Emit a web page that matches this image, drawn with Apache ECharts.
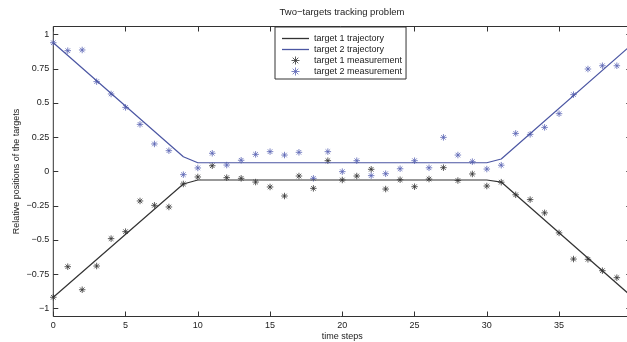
<!DOCTYPE html>
<html>
<head>
<meta charset="utf-8">
<script src="https://cdn.jsdelivr.net/npm/echarts@6/dist/echarts.min.js"></script>
<style>
html, body { margin: 0; padding: 0; background: #fff; }
#chart { width: 627px; height: 342px; }
</style>
</head>
<body>
<div id="chart"></div>
<script>
// trajectory break points (time step, position)
const traj1 = [[0, -0.918], [9, -0.091], [10, -0.062], [30, -0.062], [31, -0.077], [40, -0.91]];
const traj2 = [[0, 0.94], [9, 0.108], [10, 0.064], [30, 0.064], [31, 0.091], [40, 0.923]];

// noisy measurements, one per time step 0..39
const steps = [0, 1, 2, 3, 4, 5, 6, 7, 8, 9, 10, 11, 12, 13, 14, 15, 16, 17, 18, 19,
    20, 21, 22, 23, 24, 25, 26, 27, 28, 29, 30, 31, 32, 33, 34, 35, 36, 37, 38, 39];
const meas1 = [-0.918, -0.695, -0.863, -0.690, -0.490, -0.439, -0.215, -0.247, -0.259, -0.091,
    -0.040, 0.042, -0.045, -0.050, -0.077, -0.113, -0.179, -0.033, -0.123, 0.079,
    -0.062, -0.033, 0.016, -0.128, -0.060, -0.111, -0.055, 0.028, -0.066, -0.018,
    -0.106, -0.078, -0.170, -0.205, -0.302, -0.448, -0.639, -0.641, -0.724, -0.775];
const meas2 = [0.940, 0.882, 0.887, 0.656, 0.566, 0.468, 0.344, 0.201, 0.152, -0.023,
    0.026, 0.133, 0.047, 0.082, 0.125, 0.145, 0.120, 0.140, -0.050, 0.145,
    -0.001, 0.079, -0.030, -0.016, 0.020, 0.079, 0.027, 0.249, 0.120, 0.072,
    0.018, 0.046, 0.278, 0.271, 0.322, 0.422, 0.561, 0.748, 0.772, 0.772];

const xTickStep = 5;
const yTickStep = 0.25;

const font = '"Liberation Sans", Arial, sans-serif';
const axisColor = '#333';
const textColor = '#222';
const black = '#333';
const blue = '#4b56a3';
const blueMark = '#5a64b4';
const asterisk = 'path://M0,-10L0,10M-10,0L10,0M-7,-7L7,7M-7,7L7,-7';
const lineIcon = 'path://M0,0H27V1.3H0Z';

const minus = v => String(v).replace('-', '\u2212');

const chart = echarts.init(document.getElementById('chart'), null, { renderer: 'canvas' });

//inner grid carries the ticks (-1..1), outer grid draws the box
const tickAxis = {
    type: 'value',
    axisLine: { show: false, onZero: false },
    axisTick: { inside: true, length: 5, lineStyle: { color: axisColor } },
    splitLine: { show: false }
};

chart.setOption({
    animation: false,
    graphic: [{
        type: 'text',
        x: 342, y: 12,
        style: {
            text: 'Two\u2212targets tracking problem',
            fontSize: 9.5, fontFamily: font, fill: textColor,
            textAlign: 'center', textVerticalAlign: 'middle'
        }
    }],
    grid: [
        { left: 53.3, right: -4.3, top: 34.5, bottom: 33.5, outerBoundsMode: 'none', containLabel: false },
        {
            left: 53.3, right: -4.3, top: 26.5, bottom: 25.5, outerBoundsMode: 'none', containLabel: false,
            show: true, borderColor: axisColor, borderWidth: 1, backgroundColor: 'transparent'
        }
    ],
    xAxis: [
        Object.assign({}, tickAxis, {
            gridIndex: 0, min: 0, max: 40, interval: xTickStep, position: 'bottom', offset: 8,
            axisLabel: { margin: 5, fontSize: 9, color: textColor, fontFamily: font, showMaxLabel: false },
            name: 'time steps', nameLocation: 'middle', nameGap: 16, nameMoveOverlap: false,
            nameTextStyle: { fontSize: 9, color: textColor, fontFamily: font }
        }),
        Object.assign({}, tickAxis, {
            gridIndex: 0, min: 0, max: 40, interval: xTickStep, position: 'top', offset: 8,
            axisLabel: { show: false }
        }),
        { gridIndex: 1, type: 'value', min: 0, max: 40, show: false }
    ],
    yAxis: [
        Object.assign({}, tickAxis, {
            gridIndex: 0, min: -1, max: 1, interval: yTickStep, position: 'left',
            axisLabel: { margin: 4, fontSize: 9, color: textColor, fontFamily: font, formatter: minus },
            name: 'Relative positions of the targets', nameLocation: 'middle', nameGap: 32, nameRotate: 90,
            nameMoveOverlap: false,
            nameTextStyle: { fontSize: 9, color: textColor, fontFamily: font }
        }),
        Object.assign({}, tickAxis, {
            gridIndex: 0, min: -1, max: 1, interval: yTickStep, position: 'right',
            axisLabel: { show: false }
        }),
        { gridIndex: 1, type: 'value', min: -1.06, max: 1.06, show: false }
    ],
    legend: {
        orient: 'vertical',
        left: 275, top: 27,
        itemWidth: 27, itemHeight: 8, itemGap: 2,
        padding: [7, 4, 3, 7],
        backgroundColor: '#fff',
        borderColor: axisColor, borderWidth: 1,
        textStyle: { fontSize: 9, lineHeight: 9, color: textColor, fontFamily: font },
        data: [
            { name: 'target 1 trajectory', icon: lineIcon, itemStyle: { color: black, borderWidth: 0 } },
            { name: 'target 2 trajectory', icon: lineIcon, itemStyle: { color: blue, borderWidth: 0 } },
            { name: 'target 1 measurement', icon: asterisk, itemStyle: { color: black, borderColor: black, borderWidth: 1 } },
            { name: 'target 2 measurement', icon: asterisk, itemStyle: { color: blueMark, borderColor: blueMark, borderWidth: 1 } }
        ]
    },
    series: [
        {
            name: 'target 1 trajectory', type: 'line', data: traj1, symbol: 'none',
            lineStyle: { color: black, width: 1.2 }, itemStyle: { color: black }
        },
        {
            name: 'target 2 trajectory', type: 'line', data: traj2, symbol: 'none',
            lineStyle: { color: blue, width: 1.2 }, itemStyle: { color: blue }
        },
        {
            name: 'target 1 measurement', type: 'scatter', symbol: asterisk, symbolSize: 6.5,
            data: steps.map((t, i) => [t, meas1[i]]),
            itemStyle: { color: black, borderColor: black, borderWidth: 1 }
        },
        {
            name: 'target 2 measurement', type: 'scatter', symbol: asterisk, symbolSize: 6.5,
            data: steps.map((t, i) => [t, meas2[i]]),
            itemStyle: { color: blueMark, borderColor: blueMark, borderWidth: 1 }
        }
    ]
});
</script>
</body>
</html>
